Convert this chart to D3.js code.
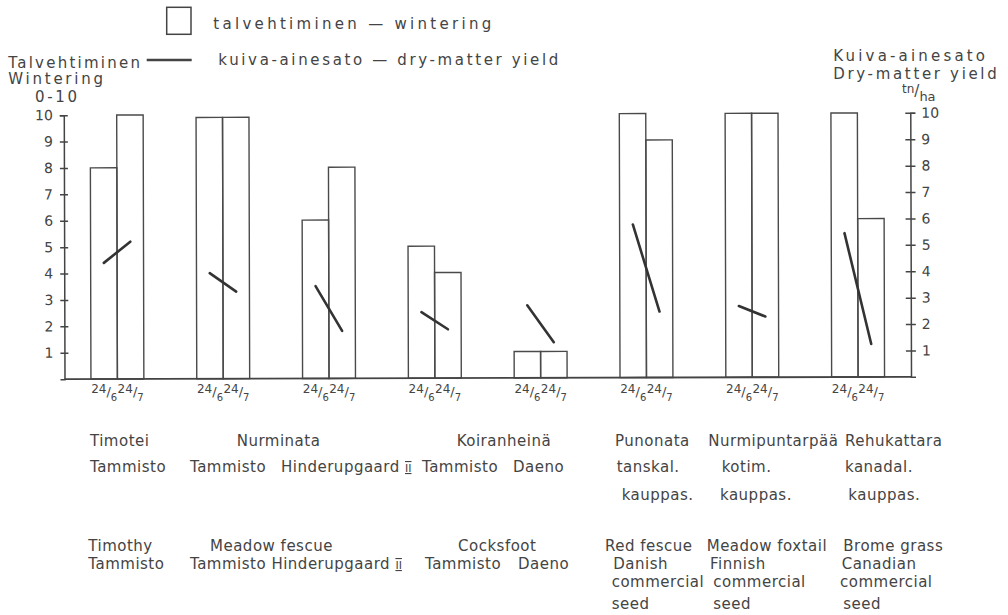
<!DOCTYPE html>
<html>
<head>
<meta charset="utf-8">
<script src="https://cdn.jsdelivr.net/npm/d3@7"></script>
<style>
  body { margin: 0; background: #fff; }
  svg { display: block; font-family: "DejaVu Sans", sans-serif; }
  .lbl { font-size: 15px; fill: #444; letter-spacing: 0.5px; }
  .ttl { font-size: 15px; fill: #444; }
  .axis text { font-size: 14px; fill: #444; font-family: "DejaVu Sans", sans-serif; }
  .axis path, .axis line { stroke: #444; stroke-width: 1.5; }
</style>
</head>
<body>
<div id="chart"></div>
<script>
// Data
var groups = ["Timotei Tammisto", "Nurminata Tammisto", "Nurminata Hinderupgaard II",
              "Koiranheinä Tammisto", "Koiranheinä Daeno", "Punonata tanskal.",
              "Nurmipuntarpää kotim.", "Rehukattara kanadal."];
var dates = ["24/6", "24/7"];
// wintering score 0-10 (bars)
var winteringJune = [8, 9.9, 6, 5, 1, 10, 10, 10];
var winteringJuly = [10, 9.9, 8, 4, 1, 9, 10, 6];
// dry-matter yield tn/ha (lines)
var yieldJune = [4.4, 4.0, 3.5, 2.5, 2.75, 5.8, 2.7, 5.45];
var yieldJuly = [5.2, 3.3, 1.8, 1.85, 1.35, 2.5, 2.3, 1.25];
var tickValues = [1, 2, 3, 4, 5, 6, 7, 8, 9, 10];

// text rows under the chart
var nameRowFi = ["Timotei", "Nurminata", "Koiranheinä", "Punonata", "Nurmipuntarpää", "Rehukattara"];
var cultivarRowFi = ["Tammisto", "Tammisto", "Hinderupgaard II", "Tammisto", "Daeno", "tanskal.", "kotim.", "kanadal."];
var originRowFi = ["kauppas.", "kauppas.", "kauppas."];
var nameRowEn = ["Timothy", "Meadow fescue", "Cocksfoot", "Red fescue", "Meadow foxtail", "Brome grass"];
var cultivarRowEn = ["Tammisto", "Tammisto Hinderupgaard II", "Tammisto", "Daeno", "Danish", "Finnish", "Canadian"];
var commercialRowEn = ["commercial", "commercial", "commercial"];
var seedRowEn = ["seed", "seed", "seed"];

var width = 1008, height = 615;

var svg = d3.select("#chart")
    .append("svg")
        .attr("width", width)
        .attr("height", height);

svg.append("rect").attr("width", width).attr("height", height).attr("fill", "#fff");

// scales
var xGroup = d3.scaleBand()
    .domain(groups)
    .range([64.5, 911])
    .paddingInner(0.5)
    .paddingOuter(0.25);

var xDate = d3.scaleBand()
    .domain(dates)
    .range([0, xGroup.bandwidth()]);

var yScale = d3.scaleLinear()
    .domain([0, 10])
    .range([378, 114]);

// the scan is slightly tilted
var plot = svg.append("g")
    .attr("transform", "rotate(-0.155, 488, 378)");

// bars
var barData = [];
groups.forEach(function(g, i) {
    barData.push({group: g, date: dates[0], value: winteringJune[i]});
    barData.push({group: g, date: dates[1], value: winteringJuly[i]});
});

plot.append("g")
    .selectAll("rect")
    .data(barData)
    .enter()
    .append("rect")
        .attr("x", function(d) { return xGroup(d.group) + xDate(d.date); })
        .attr("y", function(d) { return yScale(d.value); })
        .attr("width", xDate.bandwidth())
        .attr("height", function(d) { return yScale(0) - yScale(d.value); })
        .attr("fill", "none")
        .attr("stroke", "#4a4a4a")
        .attr("stroke-width", 1.4);

// x baseline
plot.append("line")
    .attr("x1", xGroup.range()[0])
    .attr("x2", xGroup.range()[1])
    .attr("y1", yScale(0))
    .attr("y2", yScale(0))
    .attr("stroke", "#444")
    .attr("stroke-width", 1.8);

// left axis
var leftAxis = plot.append("g")
    .attr("class", "axis")
    .attr("transform", "translate(" + xGroup.range()[0] + ",0)")
    .call(d3.axisLeft(yScale).tickValues(tickValues).tickSizeOuter(0).tickSize(4).tickPadding(7));
leftAxis.selectAll(".tick line").attr("x2", -4).attr("x1", 4);
leftAxis.select(".domain").attr("stroke", "#444");

// right axis
var rightAxis = plot.append("g")
    .attr("class", "axis")
    .attr("transform", "translate(" + xGroup.range()[1] + ",0)")
    .call(d3.axisRight(yScale).tickValues(tickValues).tickSizeOuter(0).tickSize(5).tickPadding(6));
rightAxis.selectAll(".tick line").attr("x1", -5);
rightAxis.select(".domain").attr("stroke", "#444");

// dry-matter yield lines
var line = d3.line()
    .x(function(d) { return d[0]; })
    .y(function(d) { return d[1]; });

plot.append("g")
    .selectAll("path")
    .data(groups)
    .enter()
    .append("path")
        .attr("d", function(g, i) {
            return line([
                [xGroup(g) + xDate(dates[0]) + xDate.bandwidth() / 2, yScale(yieldJune[i])],
                [xGroup(g) + xDate(dates[1]) + xDate.bandwidth() / 2, yScale(yieldJuly[i])]
            ]);
        })
        .attr("stroke", "#333")
        .attr("stroke-width", 2.6)
        .attr("stroke-linecap", "round")
        .attr("fill", "none");

// date labels 24/6 24/7 written as fractions
svg.append("g")
    .selectAll("text")
    .data(barData)
    .enter()
    .append("text")
        .attr("x", function(d) { return xGroup(d.group) + xDate(d.date) + xDate.bandwidth() / 2; })
        .attr("y", 393)
        .attr("text-anchor", "middle")
        .attr("fill", "#444")
        .attr("font-size", "12px")
        .each(function(d) {
            var parts = d.date.split("/");
            var t = d3.select(this);
            t.append("tspan").text(parts[0]);
            t.append("tspan").attr("dy", 3).attr("font-size", "13px").text("/");
            t.append("tspan").attr("dy", 5).attr("font-size", "10px").text(parts[1]);
        });

// legend
svg.append("rect")
    .attr("x", 166.7).attr("y", 7.3)
    .attr("width", 24.3).attr("height", 27)
    .attr("fill", "none").attr("stroke", "#444").attr("stroke-width", 1.5);
svg.append("line")
    .attr("x1", 146.7).attr("x2", 191.7)
    .attr("y1", 60).attr("y2", 60)
    .attr("stroke", "#444").attr("stroke-width", 2.4);

function title(txt, x, y, len, size) {
    svg.append("text")
        .attr("class", "ttl")
        .attr("x", x).attr("y", y)
        .attr("font-size", size + "px")
        .attr("textLength", len)
        .attr("lengthAdjust", "spacing")
        .text(txt);
}
title("talvehtiminen — wintering", 213.3, 29, 278, 16);
title("kuiva-ainesato — dry-matter yield", 218.3, 65, 340, 16);
title("Talvehtiminen", 8.3, 68, 131.7, 12.5);
title("Wintering", 8.3, 84, 94.7, 12.5);
title("0-10", 35, 101.7, 42, 13);
title("Kuiva-ainesato", 833.3, 61, 151.7, 11.5);
title("Dry-matter yield", 833.3, 78.5, 163.4, 11.5);

// tn/ha unit
var unit = svg.append("text")
    .attr("x", 902).attr("y", 93)
    .attr("fill", "#444").attr("font-size", "12px");
unit.append("tspan").text("tn");
unit.append("tspan").attr("dy", 3).attr("font-size", "15px").text("/");
unit.append("tspan").attr("dy", 5).attr("font-size", "13px").text("ha");

// rows of names under the chart
function row(texts, xs, y) {
    svg.append("g")
        .selectAll("text")
        .data(texts)
        .enter()
        .append("text")
            .attr("class", "lbl")
            .attr("x", function(d, i) { return xs[i]; })
            .attr("y", y)
            .each(function(d) {
                var t = d3.select(this);
                if (d.slice(-3) === " II") {
                    t.append("tspan").text(d.slice(0, -3) + " ");
                    t.append("tspan")
                        .attr("font-size", "11px")
                        .style("letter-spacing", "0px")
                        .style("text-decoration", "underline overline")
                        .text("II");
                } else {
                    t.text(d);
                }
            });
}
row(nameRowFi, [90, 236.7, 456.7, 615, 708.3, 845], 446);
row(cultivarRowFi, [90, 190, 281, 422, 513, 616.7, 721.7, 845], 472);
row(originRowFi, [621.7, 720, 848.3], 500);
row(nameRowEn, [88.3, 210, 458, 605, 706.7, 843.3], 551);
row(cultivarRowEn, [88.3, 190, 425, 518, 613.3, 710, 841.7], 569);
row(commercialRowEn, [611.7, 713.3, 840], 587);
row(seedRowEn, [611.7, 713.3, 843.3], 609);
</script>
</body>
</html>
